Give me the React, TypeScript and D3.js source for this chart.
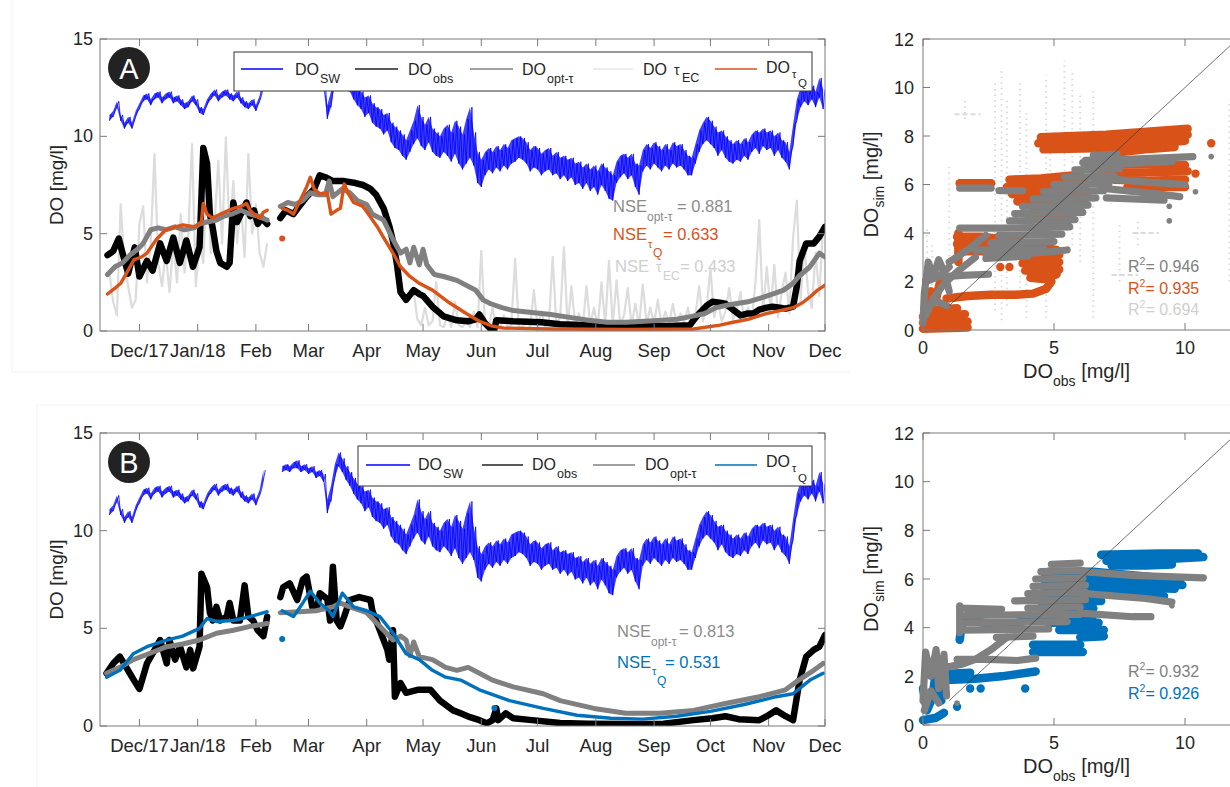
import React from "react";
import * as d3 from "d3";

const FONT = "'Liberation Sans', Arial, Helvetica, sans-serif";
const T0 = Date.UTC(2017, 10, 10);
const toDate = (d: number) => new Date(T0 + d * 86400000);

type Pt = [number, number | null];
type Sw = [number, number | null, number | null];
type XY = [number, number];

// ---------- axis tick data ----------
const monthTicks = [
  Date.UTC(2017, 11, 1), Date.UTC(2018, 0, 1), Date.UTC(2018, 1, 1), Date.UTC(2018, 2, 1),
  Date.UTC(2018, 3, 1), Date.UTC(2018, 4, 1), Date.UTC(2018, 5, 1), Date.UTC(2018, 6, 1),
  Date.UTC(2018, 7, 1), Date.UTC(2018, 8, 1), Date.UTC(2018, 9, 1), Date.UTC(2018, 10, 1),
  Date.UTC(2018, 11, 1),
];
const monthLabels = ["Dec/17", "Jan/18", "Feb", "Mar", "Apr", "May", "Jun", "Jul", "Aug", "Sep", "Oct", "Nov", "Dec"];
const doTicks = [0, 5, 10, 15];
const simTicks = [0, 2, 4, 6, 8, 10, 12];
const obsTicks = [0, 5, 10];

// ---------- DO_SW (day, daily low, daily high) ----------
const swData: Sw[] = [
  [1, null, null], [5, 10.8, 11.1], [7, 11.0, 11.3], [9, 11.5, 11.8], [11, 10.8, 11.1], [13, 10.4, 10.7],
  [15, 10.7, 11.0], [17, 10.4, 10.7], [19, 11.0, 11.3], [21, 11.4, 11.7], [23, 11.8, 12.1], [25, 11.9, 12.2],
  [27, 11.6, 11.9], [29, 11.9, 12.2], [31, 12.0, 12.3], [33, 11.7, 12.0], [35, 11.9, 12.2], [37, 12.0, 12.3],
  [39, 11.7, 12.0], [41, 11.8, 12.1], [43, 11.6, 11.9], [45, 11.4, 11.7], [47, 11.5, 11.8], [49, 11.8, 12.1],
  [51, 11.6, 11.9], [53, 11.2, 11.5], [55, 11.1, 11.4], [57, 11.6, 11.9], [59, 11.9, 12.2], [61, 12.1, 12.4],
  [63, 11.8, 12.1], [65, 12.0, 12.3], [67, 12.1, 12.4], [69, 11.9, 12.2], [71, 11.8, 12.1], [73, 12.0, 12.3],
  [75, 11.7, 12.0], [77, 11.5, 11.8], [79, 11.4, 11.7], [81, 11.6, 11.9], [83, 11.3, 11.6], [85, 11.8, 12.1],
  [87, 12.6, 13.1], [90, null, null],
  [97, 13.0, 13.3], [99, 13.1, 13.4], [101, 13.0, 13.3], [103, 13.2, 13.5], [105, 13.2, 13.6], [107, 13.0, 13.3],
  [109, 13.1, 13.4], [111, 12.9, 13.2], [113, 13.0, 13.3], [115, 12.7, 13.0], [117, 12.8, 13.1], [119, 12.5, 12.9],
  [121, 10.9, 11.6], [123, 11.5, 12.3], [125, 12.7, 13.4], [127, 13.3, 14.0], [129, 13.0, 13.7], [131, 12.6, 13.3],
  [133, 12.3, 13.0], [135, 11.9, 12.7], [137, 11.6, 12.4], [139, 11.4, 12.3], [141, 11.0, 12.0], [143, 11.2, 12.1],
  [145, 10.7, 11.7], [147, 10.5, 11.5], [149, 10.4, 11.4], [151, 10.1, 11.1], [153, 10.3, 11.2], [155, 9.7, 10.7],
  [157, 9.4, 10.5], [159, 9.3, 10.3], [161, 9.0, 10.1], [163, 8.8, 9.8], [165, 9.2, 10.3], [167, 9.6, 10.8],
  [169, 9.9, 11.6], [171, 9.5, 11.0], [173, 9.3, 10.6], [175, 9.7, 11.0], [177, 9.2, 10.4], [179, 9.0, 10.2],
  [181, 8.9, 10.0], [183, 9.2, 10.4], [185, 9.0, 10.6], [187, 8.7, 10.2], [189, 9.1, 10.8], [191, 8.6, 10.5],
  [193, 8.3, 10.1], [195, 8.6, 10.9], [197, 8.9, 11.5], [199, 8.5, 10.2], [201, 7.6, 9.2], [203, 7.4, 8.8],
  [205, 8.0, 9.2], [207, 8.3, 9.4], [209, 8.1, 9.2], [211, 8.4, 9.5], [213, 8.2, 9.3], [215, 8.5, 9.6],
  [217, 8.3, 9.4], [219, 8.6, 9.8], [221, 8.7, 9.9], [223, 8.9, 10.0], [225, 8.8, 9.9], [227, 8.6, 9.7],
  [229, 8.2, 9.3], [231, 8.4, 9.5], [233, 8.3, 9.4], [235, 8.0, 9.1], [237, 8.2, 9.3], [239, 8.3, 9.4],
  [241, 8.0, 9.0], [243, 8.1, 9.2], [245, 7.8, 8.9], [247, 8.0, 9.0], [249, 7.7, 8.8], [251, 7.9, 8.9],
  [253, 7.5, 8.6], [255, 7.6, 8.7], [257, 7.3, 8.4], [259, 7.6, 8.6], [261, 7.2, 8.3], [263, 7.4, 8.5],
  [265, 7.0, 8.2], [267, 7.5, 8.6], [269, 7.2, 8.4], [271, 6.8, 8.2], [273, 6.7, 8.0], [275, 7.6, 8.7],
  [277, 7.9, 9.0], [279, 8.1, 9.1], [281, 7.8, 8.9], [283, 8.0, 9.1], [285, 7.4, 8.6], [287, 7.0, 8.5],
  [289, 8.2, 9.3], [291, 8.5, 9.6], [293, 8.3, 9.4], [295, 8.6, 9.7], [297, 8.4, 9.5], [299, 8.2, 9.3],
  [301, 8.5, 9.6], [303, 8.3, 9.3], [305, 8.6, 9.7], [307, 8.4, 9.5], [309, 8.5, 9.6], [311, 8.3, 9.3],
  [313, 8.0, 9.0], [315, 8.0, 8.9], [317, 8.6, 9.6], [319, 9.2, 10.3], [321, 9.6, 10.7], [323, 9.8, 11.0],
  [325, 9.6, 10.8], [327, 9.4, 10.5], [329, 9.0, 10.2], [331, 9.3, 10.3], [333, 8.9, 10.0], [335, 8.7, 9.8],
  [337, 8.6, 9.6], [339, 8.8, 9.8], [341, 8.7, 9.6], [343, 9.0, 9.9], [345, 8.8, 9.7], [347, 9.2, 10.1],
  [349, 9.4, 10.3], [351, 9.1, 10.2], [353, 9.5, 10.4], [355, 9.3, 10.2], [357, 9.4, 10.3], [359, 9.0, 10.0],
  [361, 9.3, 10.2], [363, 8.9, 9.8], [365, 8.7, 9.7], [367, 8.3, 9.2], [369, 9.5, 10.6], [371, 10.8, 11.9],
  [373, 11.5, 12.5], [375, 11.8, 12.6], [377, 11.6, 12.4], [379, 11.9, 12.6], [381, 11.5, 12.3], [383, 12.0, 13.0],
  [385, 11.4, 12.4],
];

// ---------- panel A series (day, value) ----------
const obsA: Pt[] = [
  [4, 3.9], [7, 4.1], [10, 4.75], [12, 4.0], [15, 2.95], [18.5, 4.3], [21, 2.8], [25, 3.6], [28, 3.1], [32, 4.5],
  [35.5, 3.6], [39, 4.8], [42.5, 3.5], [46, 4.65], [49.5, 3.3], [53, 4.3], [55, 9.4], [57, 8.6], [58.5, 6.0],
  [60, 5.3], [62, 4.1], [64, 3.5], [67.5, 3.3], [69, 3.5], [71, 6.6], [73, 5.6], [75, 6.0], [78, 6.6], [80, 5.9],
  [82, 6.2], [84, 5.5], [86, 5.8], [89, 5.5], [92, null], [96, 5.8], [99, 6.2], [103, 6.0], [106, 6.4], [110, 6.9],
  [114, 7.3], [117, 8.0], [120, 7.9], [124, 7.7], [130, 7.7], [136, 7.6], [140, 7.5], [144, 7.3], [147, 7.0],
  [151, 6.3], [154, 5.4], [156, 4.6], [158, 3.5], [160, 2.0], [163, 1.6], [167, 2.1], [170, 1.9], [172, 1.8],
  [177, 1.25], [183, 0.75], [190, 0.55], [196, 0.5], [200, 0.6], [202, 0.85], [205, 0.4], [208, 0.1], [210, 0.1],
  [211, 0.55], [220, 0.5], [235, 0.45], [245, 0.35], [260, 0.3], [280, 0.25], [300, 0.25], [314, 0.3], [316, 0.55],
  [319, 0.9], [323, 1.3], [326, 1.5], [330, 1.45], [333, 1.4], [337, 1.1], [341, 0.8], [345, 0.9], [348, 0.9],
  [351, 1.1], [355, 1.2], [358, 1.25], [362, 1.2], [365, 1.15], [369, 1.25], [371, 2.3], [372.5, 3.6], [376, 4.5],
  [380, 4.5], [383, 4.85], [386, 5.35],
];
const optA: Pt[] = [
  [4, 2.9], [8, 3.3], [12, 3.5], [16, 3.9], [20, 4.2], [23, 4.5], [27, 5.2], [31, 5.3], [35, 5.2], [40, 5.35],
  [45, 5.2], [50, 5.3], [53, 5.5], [57, 5.6], [62, 5.7], [66, 5.9], [70, 6.0], [75, 6.2], [80, 6.0], [84, 5.9],
  [89, 5.7], [92, null], [96, 6.4], [100, 6.6], [104, 6.5], [108, 6.7], [112, 7.1], [116, 7.0], [120, 7.0],
  [122, 7.7], [124, 6.9], [129, 7.3], [133, 7.1], [137, 6.7], [142, 6.5], [145, 6.0], [151, 5.7], [156, 4.7],
  [160, 4.0], [163, 4.2], [165, 3.5], [167, 4.3], [170, 3.4], [172, 4.2], [174, 3.4], [178, 2.9], [183, 2.8],
  [190, 2.6], [196, 2.3], [200, 2.1], [204, 1.6], [208, 1.4], [214, 1.2], [220, 1.05], [230, 0.95], [240, 0.85],
  [250, 0.7], [260, 0.55], [270, 0.45], [280, 0.45], [290, 0.5], [300, 0.55], [307, 0.6], [315, 0.75], [322, 0.9],
  [328, 1.2], [335, 1.35], [345, 1.5], [352, 1.7], [358, 1.9], [364, 2.1], [369, 2.45], [372, 2.8], [378, 3.3],
  [383, 4.0], [386, 3.8],
];
const tauQA: Pt[] = [
  [4, 1.9], [8, 2.2], [11, 2.45], [14, 2.95], [18, 3.65], [22, 3.8], [25, 4.0], [30, 4.7], [35, 5.2], [44, 5.45],
  [51, 5.35], [54, 5.6], [55, 6.55], [57, 6.0], [60, 5.8], [65, 6.05], [71, 6.3], [75, 6.4], [78, 6.55], [80, 6.2],
  [82, 6.0], [85, 5.8], [87, 6.1], [89, 6.2], [92, null], [97, 6.3], [100, 6.2], [103, 6.0], [107, 6.8], [110, 7.4],
  [112, 7.9], [114, 7.3], [117, 7.05], [121, 7.1], [123, 6.0], [126, 6.2], [128, 6.3], [130, 7.55], [132, 7.1],
  [135, 6.6], [140, 6.4], [144, 5.85], [148, 5.3], [151, 4.8], [156, 4.0], [160, 3.3], [165, 2.8], [170, 2.45],
  [177, 2.1], [186, 1.45], [195, 0.9], [202, 0.5], [209, 0.25], [215, 0.15], [240, 0.1], [280, 0.08], [316, 0.1],
  [330, 0.3], [337, 0.45], [345, 0.6], [355, 0.9], [362, 1.05], [369, 1.2], [374, 1.45], [378, 1.75], [382, 2.1],
  [386, 2.35],
];
const tauQOutA: XY[] = [[97, 4.75]];
const tecA: Pt[] = [
  [5, 3.0], [7, 1.5], [9, 0.8], [11, 6.5], [13, 3.5], [15, 2.3], [17, 1.2], [19, 1.6], [21, 5.5], [23, 6.4],
  [25, 2.5], [27, 4.5], [29, 9.1], [31, 3.5], [33, 2.3], [35, 4.0], [37, 2.0], [39, 4.5], [41, 2.5], [43, 6.0],
  [45, 3.0], [47, 5.0], [49, 9.6], [51, 2.3], [53, 4.5], [55, 3.5], [57, 8.4], [59, 4.0], [61, 5.5], [63, 8.75],
  [65, 4.5], [67, 9.95], [69, 5.0], [71, 7.7], [73, 4.5], [75, 6.5], [77, 3.8], [79, 9.1], [81, 5.0], [83, 6.5],
  [85, 4.0], [87, 3.3], [89, 4.5], [90, null],
  [167, 2.0], [169, 0.6], [171, 0.3], [173, 1.2], [175, 0.3], [177, 0.5], [179, 2.5], [181, 0.3], [183, 0.2],
  [185, 0.8], [187, 0.2], [189, 1.5], [191, 0.3], [193, 0.2], [195, 0.5], [197, 0.2], [199, 1.0], [201, 0.2],
  [203, 4.1], [205, 0.3], [207, 0.2], [209, 1.2], [211, 0.2], [213, 0.1], [215, 0.8], [217, 0.2], [219, 0.3],
  [221, 3.7], [223, 0.2], [225, 0.2], [227, 0.6], [229, 0.2], [231, 2.1], [233, 0.2], [235, 1.0], [237, 0.2],
  [239, 0.4], [241, 3.8], [243, 0.3], [245, 0.7], [247, 4.3], [249, 0.2], [251, 2.3], [253, 0.3], [255, 0.9],
  [257, 0.2], [259, 2.3], [261, 0.3], [263, 1.2], [265, 0.2], [267, 2.5], [269, 0.3], [271, 3.6], [273, 0.3],
  [275, 2.6], [277, 0.3], [279, 0.8], [281, 2.2], [283, 0.3], [285, 1.4], [287, 0.3], [289, 2.4], [291, 0.4],
  [293, 1.2], [295, 0.4], [297, 1.6], [299, 0.3], [301, 1.0], [303, 0.4], [305, 1.4], [307, 0.3], [309, 0.9],
  [311, 0.4], [313, 1.2], [315, 0.4], [317, 0.8], [319, 2.3], [321, 0.5], [323, 1.2], [325, 3.2], [327, 0.7],
  [329, 1.5], [331, 0.5], [333, 1.0], [335, 2.2], [337, 0.6], [339, 1.0], [341, 2.0], [343, 0.5], [345, 1.2],
  [347, 0.6], [349, 2.5], [351, 5.7], [353, 0.9], [355, 3.3], [357, 1.0], [359, 3.4], [361, 0.7], [363, 2.0],
  [365, 3.0], [367, 0.9], [369, 4.8], [371, 6.7], [373, 1.5], [375, 4.5], [377, 2.0], [379, 1.2], [381, 4.0],
  [383, 1.8], [385, 5.5],
];

// ---------- panel B series ----------
const obsB: Pt[] = [
  [3.5, 2.7], [7, 3.2], [10.6, 3.55], [14, 3.0], [17.7, 2.4], [21, 1.9], [25, 3.2], [28, 3.7], [32, 4.4],
  [35.5, 3.2], [37, 4.4], [40, 3.4], [42.6, 4.06], [46, 3.0], [48, 3.9], [49.6, 2.95], [53, 4.06], [54, 7.8],
  [57, 7.1], [58.5, 5.8], [60, 5.4], [62, 6.1], [64, 5.4], [67.5, 5.6], [69, 6.3], [71, 5.4], [74.5, 5.4],
  [77, 7.2], [79, 5.6], [81.5, 5.4], [84, 4.9], [87, 4.6], [89, 5.6], [92, null], [96, 6.6], [97.5, 7.1],
  [101, 7.3], [105, 6.45], [108, 7.5], [110, 7.65], [113, 6.1], [115.5, 6.0], [117, 6.8], [121, 6.5],
  [122.5, 5.4], [124, 8.15], [126, 5.4], [128, 5.1], [130, 5.6], [133, 6.45], [138, 6.6], [144, 6.45],
  [145, 5.9], [149, 4.9], [153, 3.9], [154, 3.4], [156, 4.9], [157, 1.5], [160, 2.2], [163, 1.7], [169, 1.85],
  [176, 1.85], [181, 1.3], [188, 0.8], [192, 0.65], [197, 0.45], [202, 0.3], [206, 0.14], [209, 0.3], [211, 0.9],
  [212, 0.3], [216, 0.65], [220, 0.4], [230, 0.3], [245, 0.15], [260, 0.12], [280, 0.1], [300, 0.12], [316, 0.3],
  [326, 0.4], [333, 0.5], [340, 0.35], [351, 0.3], [355, 0.5], [360, 0.8], [365, 0.5], [369, 0.3], [372.5, 2.35],
  [376, 3.55], [380, 3.9], [383, 4.06], [386, 4.65],
];
const optB: Pt[] = [
  [3.5, 2.7], [10.6, 3.0], [17.7, 3.4], [26, 3.7], [35.5, 4.06], [44, 4.2], [53, 4.4], [62, 4.75], [71, 4.9],
  [80, 5.1], [89, 5.25], [92, null], [96, 5.8], [106, 5.85], [115, 5.9], [124, 6.1], [128, 6.3], [133, 6.1],
  [142, 5.8], [151, 4.9], [156, 4.4], [160, 4.6], [163, 4.4], [165, 3.6], [167, 4.3], [170, 3.55], [177, 3.4],
  [184, 3.0], [190, 2.85], [196, 3.0], [202, 2.7], [209, 2.35], [220, 2.0], [236, 1.65], [245, 1.3], [263, 0.9],
  [280, 0.65], [298, 0.65], [316, 0.8], [333, 1.15], [351, 1.5], [365, 1.85], [372, 2.35], [380, 2.85], [385, 3.2],
];
const tauQB: Pt[] = [
  [3.5, 2.5], [10.6, 2.85], [17.7, 3.7], [25, 4.06], [35.5, 4.4], [44, 4.6], [53, 5.0], [57, 5.5], [62, 5.35],
  [71, 5.4], [80, 5.6], [89, 5.85], [92, null], [97, 5.9], [103, 5.6], [108, 6.3], [112, 6.9], [117, 6.3],
  [122, 5.9], [124, 5.6], [129, 6.8], [135, 6.1], [142, 5.9], [149, 5.6], [156, 4.75], [163, 3.7], [170, 3.4],
  [177, 2.85], [184, 2.5], [192, 2.35], [202, 1.85], [218, 1.3], [236, 0.9], [254, 0.55], [272, 0.4], [289, 0.35],
  [307, 0.5], [325, 0.75], [343, 1.1], [360, 1.5], [369, 1.65], [378, 2.35], [385, 2.7],
];
const tauQOutB: XY[] = [[97, 4.45], [210, 0.92]];

// ---------- scatter A (obs, sim): streaks of dense markers ----------
const qStreaksA: XY[][] = [
  [[4.5, 7.95], [7, 8.05], [10.1, 8.3]], [[4.4, 7.7], [7, 7.8], [10.1, 8.05]], [[4.6, 7.45], [7, 7.5], [10.0, 7.8]],
  [[6.8, 7.25], [8.5, 7.45], [9.6, 7.55]],
  [[6.5, 6.8], [8.5, 6.85], [10, 6.8]], [[6.8, 6.5], [8.5, 6.5], [10.1, 6.55]], [[7.3, 6.2], [8.5, 6.15], [10, 6.2]],
  [[7.8, 5.9], [10, 5.9]],
  [[3.3, 6.2], [4.5, 6.25], [6.0, 6.4]], [[3.2, 5.9], [4.5, 6.0], [6.2, 6.1]], [[3.4, 5.6], [5, 5.7], [6.2, 5.8]],
  [[3.6, 5.3], [5, 5.35], [6.3, 5.5]], [[4.2, 5.0], [5.4, 5.0], [6.2, 5.2]],
  [[1.4, 6.05], [2.6, 6.05]],
  [[1.3, 3.85], [2.2, 3.85], [3.0, 3.75], [3.8, 3.6]], [[1.3, 3.55], [2.4, 3.55], [3.6, 3.4]],
  [[1.5, 3.25], [2.4, 3.25], [3.3, 3.2]], [[1.35, 2.8], [1.35, 4.0]],
  [[4.3, 4.6], [5.0, 4.8], [5.6, 4.7]], [[4.3, 4.2], [5.0, 4.3], [5.5, 4.4]],
  [[3.7, 3.35], [4.5, 3.4], [5.1, 3.3]], [[3.7, 3.05], [4.5, 3.0], [5.2, 3.1]], [[3.8, 2.75], [4.6, 2.7], [5.2, 2.8]],
  [[3.9, 2.45], [4.6, 2.4], [5.2, 2.5]], [[4.1, 2.15], [4.6, 2.1], [5.1, 2.3]],
  [[0.9, 1.3], [1.7, 1.4], [2.6, 1.45], [3.5, 1.45], [4.2, 1.5], [4.7, 1.7], [4.9, 2.0]],
  [[0, 0.05], [1.7, 0.1]], [[0, 0.3], [0.8, 0.35], [1.7, 0.35]], [[0, 0.55], [0.8, 0.6], [1.6, 0.65]],
  [[0.1, 0.85], [0.7, 0.85], [1.3, 0.9]], [[0.1, 0.9], [0.3, 1.6], [0.5, 1.3], [0.7, 2.2]],
];
const qDotsA: XY[] = [[2.95, 2.6], [3.3, 2.6], [11.0, 7.7], [10.4, 6.45]];
const optStreaksA: XY[][] = [
  [[6.2, 7.0], [8, 7.05], [10.3, 7.15]], [[6.5, 6.8], [8.5, 6.9], [9.5, 6.95]],
  [[6.5, 6.3], [8.5, 6.1], [10, 6.0]], [[6.8, 5.85], [9, 5.6], [9.8, 5.5]], [[7, 5.45], [9.2, 5.35]],
  [[1.4, 5.85], [2.6, 5.85]], [[2.9, 5.75], [3.8, 5.75]],
  [[2.4, 2.95], [4.0, 3.05]], [[2.0, 3.3], [4.6, 3.35]], [[2.6, 3.6], [5.0, 3.65]], [[2.9, 3.9], [5.3, 3.95]],
  [[1.4, 4.2], [3.0, 4.2], [5.6, 4.25]], [[3.3, 4.5], [5.8, 4.55]], [[3.5, 4.8], [6.1, 4.85]],
  [[3.8, 5.1], [6.3, 5.15]], [[4.2, 5.4], [6.6, 5.45]], [[4.6, 5.7], [6.9, 5.75]], [[5.0, 6.0], [7.1, 6.05]],
  [[5.4, 6.3], [7.3, 6.35]], [[5.8, 6.6], [7.5, 6.65]], [[6.1, 6.9], [7.5, 6.95]], [[6.5, 7.2], [7.4, 7.25]],
  [[0.1, 0.6], [0.4, 1.3], [0.8, 1.9], [1.3, 2.4], [2, 3.0]], [[1, 2.8], [1.7, 3.3], [2.4, 3.9]],
  [[0, 0.3], [0.05, 1.5], [0.2, 2.8], [0.4, 2.2], [0.6, 2.9], [0.8, 2.4], [1.0, 1.6]],
  [[0.1, 0.9], [0.5, 1.2], [0.9, 1.0]], [[0.1, 2.0], [0.6, 2.2], [1.0, 2.6]],
  [[0.8, 2.2], [1.5, 2.25], [2.5, 2.3]], [[2.4, 3.15], [3.5, 3.15], [4.6, 3.2], [5.5, 3.3]],
];
const optDotsA: XY[] = [[9.4, 5.1], [9.4, 4.5], [10.4, 5.7], [11.0, 7.15]];
// tau_EC scatter: columns [obs, simLow, simHigh] and dashes [obsLow, obsHigh, sim]
const tecColumnsA: [number, number, number][] = [
  [0.15, 0.0, 4.3], [0.35, 0.5, 3.5], [0.5, 0.2, 2.5], [1.0, 1.0, 6.9], [1.6, 8.7, 9.6], [2.75, 0.8, 10.3],
  [3.0, 0.4, 10.7], [3.2, 1.0, 9.5], [3.7, 1.5, 10.2], [3.95, 0.5, 9.0], [4.7, 0.5, 10.5], [4.85, 2.0, 8.0],
  [5.4, 4.5, 11.1], [5.7, 3.5, 10.6], [6.0, 2.8, 9.8], [6.5, 0.5, 10.0], [7.5, 2.0, 4.5], [8.2, 3.5, 4.6],
  [11.7, 2.0, 9.5],
];
const tecDashesA: [number, number, number][] = [[7.2, 8.2, 2.27], [8.0, 9.0, 4.0], [1.2, 2.2, 8.9]];

// ---------- scatter B ----------
const qStreaksB: XY[][] = [
  [[6.8, 7.0], [9, 7.05], [10.5, 7.05]], [[7.0, 6.75], [9, 6.8], [10.7, 6.9]], [[7.2, 6.55], [8.5, 6.55], [9.5, 6.6]],
  [[4.8, 6.3], [6.5, 6.3], [8.5, 6.1], [9.8, 5.95]], [[4.6, 6.0], [6.5, 6.0], [8.5, 5.85], [9.9, 5.75]],
  [[4.6, 5.7], [7, 5.7], [9.6, 5.6]], [[4.6, 5.4], [7, 5.4], [9.2, 5.3]], [[4.5, 5.1], [6.8, 5.1]],
  [[4.5, 4.8], [6.5, 4.8]], [[4.6, 4.5], [6.5, 4.5]], [[4.8, 4.2], [6.7, 4.2]], [[5.2, 3.9], [6.9, 3.9]],
  [[6.0, 3.6], [6.9, 3.65]], [[4.2, 3.3], [6.0, 3.3]], [[4.2, 3.0], [6.1, 3.0]],
  [[0.9, 1.85], [2, 1.9], [3, 2.0], [4.3, 2.2]], [[0.8, 2.1], [1.8, 2.15]],
  [[0, 0.2], [0.5, 0.3], [0.8, 0.5]], [[0, 1.5], [0.15, 0.6], [0.35, 1.1], [0.5, 2.2], [0.7, 1.0]],
  [[1.4, 3.5], [1.5, 4.3], [2.1, 4.25], [3, 4.05], [4, 4.3], [5, 4.5]],
];
const qDotsB: XY[] = [[1.8, 1.5], [2.2, 1.5], [3.9, 1.5], [1.3, 0.75], [9.6, 5.6]];
const optStreaksB: XY[][] = [
  [[6.1, 6.3], [8, 6.15], [10.7, 6.05]], [[6.2, 5.4], [8.5, 5.2], [9.5, 5.05]], [[6, 4.6], [8, 4.45], [8.7, 4.45]],
  [[2.8, 3.6], [4.2, 3.65]], [[1.5, 3.9], [4.8, 3.95]], [[1.5, 4.2], [5.5, 4.25]], [[1.6, 4.5], [6.0, 4.55]],
  [[1.4, 4.8], [3.0, 4.75]], [[4.0, 4.8], [6.0, 4.85]], [[3.5, 5.1], [6.2, 5.15]], [[4.0, 5.4], [6.2, 5.45]],
  [[4.2, 5.7], [6.2, 5.75]], [[4.3, 6.0], [6.1, 6.05]], [[4.5, 6.3], [6.1, 6.35]], [[4.9, 6.6], [6.0, 6.65]],
  [[1.4, 3.8], [1.4, 4.9]],
  [[0.6, 2.2], [1, 2.4], [1.5, 2.5], [2, 2.7], [2.6, 3.1], [3.2, 3.6]],
  [[1.3, 2.7], [2.5, 2.7], [3.6, 2.65], [4.3, 2.75]],
  [[0, 1.0], [0.1, 3.0], [0.3, 2.0], [0.5, 3.1], [0.6, 1.5], [0.8, 2.9], [0.9, 1.2]],
  [[0.05, 0.6], [0.3, 1.4], [0.6, 0.9]], [[0.1, 2.4], [0.5, 2.6], [0.85, 2.3]],
];
const optDotsB: XY[] = [[9.5, 4.9], [1.3, 0.9]];

// ---------- colours ----------
const C_SW = "#0000ff";
const C_OBS = "#000000";
const C_OPT = "#808080";
const C_EC = "#dcdcdc";
const C_QA = "#D95319";
const C_QB = "#0072BD";
const C_AX = "#7a7a7a";
const C_TXT = "#262626";

const T = (props: any) => <text fontFamily={FONT} {...props} />;

function TimePanel(p: {
  top: number; bottom: number; letter: string; obs: Pt[]; opt: Pt[]; tauQ: Pt[]; qColor: string;
  qOut: XY[]; tec?: Pt[]; children?: React.ReactNode; id: string;
}) {
  const L = 100, R = 825;
  const x = d3.scaleUtc().domain([toDate(0), toDate(386)]).range([L, R]);
  const y = d3.scaleLinear().domain([0, 15]).range([p.bottom, p.top]);
  const line = d3.line<Pt>().defined(d => d[1] !== null).x(d => x(toDate(d[0]))).y(d => y(d[1] as number));
  const band = d3.area<Sw>().defined(d => d[1] !== null)
    .x(d => x(toDate(d[0]))).y0(d => y(d[1] as number)).y1(d => y(d[2] as number));
  const zig: Pt[] = [];
  swData.forEach(([d, lo, hi]) => {
    if (lo === null || hi === null) zig.push([d, null]);
    else { zig.push([d, lo]); zig.push([d + 1, hi]); }
  });
  const cy = (p.top + p.bottom) / 2;
  return (
    <g>
      <defs>
        <clipPath id={p.id}><rect x={L} y={p.top} width={R - L} height={p.bottom - p.top} /></clipPath>
      </defs>
      <g clipPath={`url(#${p.id})`}>
        {p.tec && <path d={line(p.tec) || ""} fill="none" stroke={C_EC} strokeWidth={2.2} strokeLinejoin="round" />}
        <path d={band(swData) || ""} fill={C_SW} fillOpacity={0.75} stroke="none" />
        <path d={line(zig) || ""} fill="none" stroke={C_SW} strokeWidth={0.8} strokeLinejoin="round" />
        <path d={line(p.obs) || ""} fill="none" stroke={C_OBS} strokeWidth={6.5} strokeLinejoin="round" strokeLinecap="round" />
        <path d={line(p.opt) || ""} fill="none" stroke={C_OPT} strokeWidth={5} strokeLinejoin="round" strokeLinecap="round" />
        <path d={line(p.tauQ) || ""} fill="none" stroke={p.qColor} strokeWidth={3.4} strokeLinejoin="round" strokeLinecap="round" />
        {p.qOut.map((d, i) => <circle key={i} cx={x(toDate(d[0]))} cy={y(d[1])} r={3} fill={p.qColor} />)}
      </g>
      <rect x={L} y={p.top} width={R - L} height={p.bottom - p.top} fill="none" stroke={C_AX} strokeWidth={1} />
      {monthTicks.map((t, i) => (
        <g key={i}>
          <line x1={x(new Date(t))} x2={x(new Date(t))} y1={p.bottom} y2={p.bottom - 7} stroke={C_AX} />
          <line x1={x(new Date(t))} x2={x(new Date(t))} y1={p.top} y2={p.top + 7} stroke={C_AX} />
          <T x={x(new Date(t))} y={p.bottom + 26} fontSize={18.5} textAnchor="middle" fill={C_TXT}>{monthLabels[i]}</T>
        </g>
      ))}
      {doTicks.map(v => (
        <g key={v}>
          <line x1={L} x2={L + 7} y1={y(v)} y2={y(v)} stroke={C_AX} />
          <line x1={R} x2={R - 7} y1={y(v)} y2={y(v)} stroke={C_AX} />
          <T x={93} y={y(v) + 6} fontSize={18} textAnchor="end" fill={C_TXT}>{v}</T>
        </g>
      ))}
      <T transform={`translate(63,${cy}) rotate(-90)`} fontSize={19} textAnchor="middle" fill={C_TXT}>DO [mg/l]</T>
      {p.children}
      <circle cx={129} cy={p.top + 29} r={21} fill="#222" />
      <T x={129} y={p.top + 39.5} fontSize={29} textAnchor="middle" fill="#fff">{p.letter}</T>
    </g>
  );
}

function ScatterPanel(p: {
  top: number; bottom: number; qColor: string; qStreaks: XY[][]; qDots: XY[];
  optStreaks: XY[][]; optDots: XY[];
  tecCols?: [number, number, number][]; tecDashes?: [number, number, number][]; children?: React.ReactNode;
}) {
  const L = 923;
  const x = d3.scaleLinear().domain([0, 12]).range([L, L + 12 * 26.2]);
  const y = d3.scaleLinear().domain([0, 12]).range([p.bottom, p.top]);
  const line = d3.line<XY>().x(d => x(d[0])).y(d => y(d[1]));
  const cy = (p.top + p.bottom) / 2;
  return (
    <g>
      {p.tecCols && p.tecCols.map((c, i) => (
        <line key={i} x1={x(c[0])} x2={x(c[0])} y1={y(c[1])} y2={y(c[2])} stroke="#dadada" strokeWidth={2} strokeDasharray="1.5 4" />
      ))}
      {p.tecDashes && p.tecDashes.map((c, i) => (
        <line key={i} x1={x(c[0])} x2={x(c[1])} y1={y(c[2])} y2={y(c[2])} stroke="#dadada" strokeWidth={2} strokeDasharray="5 3" />
      ))}
      {p.qStreaks.map((s, i) => (
        <path key={i} d={line(s) || ""} fill="none" stroke={p.qColor} strokeWidth={8.5} strokeLinecap="round" strokeLinejoin="round" />
      ))}
      {p.qDots.map((d, i) => <circle key={i} cx={x(d[0])} cy={y(d[1])} r={4.2} fill={p.qColor} />)}
      {p.optStreaks.map((s, i) => (
        <path key={i} d={line(s) || ""} fill="none" stroke={C_OPT} strokeWidth={7.2} strokeLinecap="round" strokeLinejoin="round" />
      ))}
      {p.optDots.map((d, i) => <circle key={i} cx={x(d[0])} cy={y(d[1])} r={2.8} fill={C_OPT} />)}
      <line x1={x(1)} y1={y(1)} x2={x(12)} y2={y(12)} stroke="#333" strokeWidth={0.7} />
      <rect x={L} y={p.top} width={12 * 26.2} height={p.bottom - p.top} fill="none" stroke={C_AX} strokeWidth={1} />
      {simTicks.map(v => (
        <g key={v}>
          <line x1={L} x2={L + 7} y1={y(v)} y2={y(v)} stroke={C_AX} />
          <T x={914} y={y(v) + 6.5} fontSize={18} textAnchor="end" fill={C_TXT}>{v}</T>
        </g>
      ))}
      {obsTicks.map(v => (
        <g key={v}>
          <line x1={x(v)} x2={x(v)} y1={p.bottom} y2={p.bottom - 7} stroke={C_AX} />
          <line x1={x(v)} x2={x(v)} y1={p.top} y2={p.top + 7} stroke={C_AX} />
          <T x={x(v)} y={p.bottom + 24} fontSize={18} textAnchor="middle" fill={C_TXT}>{v}</T>
        </g>
      ))}
      <T transform={`translate(878,${cy}) rotate(-90)`} fontSize={20} textAnchor="middle" fill={C_TXT}>
        <tspan>DO</tspan><tspan fontSize={14} dy={6}>sim</tspan><tspan dy={-6}> [mg/l]</tspan>
      </T>
      <T x={1023} y={p.bottom + 48} fontSize={20} fill={C_TXT}>
        <tspan>DO</tspan><tspan fontSize={14} dy={8}>obs</tspan><tspan dy={-8}> [mg/l]</tspan>
      </T>
      {p.children}
    </g>
  );
}

function R2({ x, y, value, color }: { x: number; y: number; value: string; color: string }) {
  return (
    <T x={x} y={y} fontSize={16} fill={color}>
      <tspan>R</tspan><tspan fontSize={10.5} dy={-7}>2</tspan><tspan dy={7}>= {value}</tspan>
    </T>
  );
}

export default function App() {
  return (
    <div style={{ position: "absolute", left: 0, top: 0 }}>
      <svg width={1230} height={787} style={{ display: "block", background: "#fff" }}>
        <line x1={12} y1={0} x2={12} y2={372} stroke="#f3f3f3" />
        <line x1={12} y1={372} x2={850} y2={372} stroke="#f3f3f3" />
        <line x1={37} y1={405} x2={1230} y2={405} stroke="#f3f3f3" />
        <line x1={37} y1={405} x2={37} y2={787} stroke="#f3f3f3" />

        {/* ---------------- Panel A ---------------- */}
        <TimePanel id="clipA" top={39} bottom={331} letter="A" obs={obsA} opt={optA} tauQ={tauQA} qColor={C_QA} qOut={tauQOutA} tec={tecA}>
          <T x={613} y={212} fontSize={16.5} fill="#8c8c8c">NSE</T>
          <T x={647} y={221} fontSize={12} fill="#8c8c8c">opt-τ</T>
          <T x={677} y={212} fontSize={16.5} fill="#8c8c8c">= 0.881</T>
          <T x={613} y={240} fontSize={16.5} fill={C_QA}>NSE</T>
          <T x={648} y={248} fontSize={11} fill={C_QA}>τ</T>
          <T x={653} y={257} fontSize={12} fill={C_QA}>Q</T>
          <T x={663} y={240} fontSize={16.5} fill={C_QA}>= 0.633</T>
          <T x={615} y={272} fontSize={16.5} fill="#cfcfcf">NSE</T>
          <T x={656} y={272} fontSize={14} fill="#cfcfcf">τ</T>
          <T x={663} y={280} fontSize={12} fill="#cfcfcf">EC</T>
          <T x={680} y={272} fontSize={16.5} fill="#cfcfcf">= 0.433</T>
          <rect x={234} y={52} width={578} height={39} fill="#fff" stroke="#333" strokeWidth={1} />
          <line x1={241} x2={283} y1={69} y2={69} stroke={C_SW} strokeWidth={1.6} />
          <T x={295} y={75} fontSize={16} fill={C_TXT}>DO</T>
          <T x={320} y={83} fontSize={12.5} fill={C_TXT}>SW</T>
          <line x1={355} x2={398} y1={69} y2={69} stroke="#222" strokeWidth={1.6} />
          <T x={408} y={75} fontSize={16} fill={C_TXT}>DO</T>
          <T x={433} y={83} fontSize={12.5} fill={C_TXT}>obs</T>
          <line x1={470} x2={513} y1={69} y2={69} stroke={C_OPT} strokeWidth={1.6} />
          <T x={522} y={75} fontSize={16} fill={C_TXT}>DO</T>
          <T x={547} y={83} fontSize={12.5} fill={C_TXT}>opt-τ</T>
          <line x1={593} x2={633} y1={69} y2={69} stroke="#e6e6e6" strokeWidth={1.6} />
          <T x={643} y={75} fontSize={16} fill={C_TXT}>DO</T>
          <T x={674} y={75} fontSize={14} fill={C_TXT}>τ</T>
          <T x={682} y={82} fontSize={12.5} fill={C_TXT}>EC</T>
          <line x1={715} x2={757} y1={69} y2={69} stroke={C_QA} strokeWidth={1.6} />
          <T x={766} y={73} fontSize={16} fill={C_TXT}>DO</T>
          <T x={792} y={78} fontSize={11} fill={C_TXT}>τ</T>
          <T x={798} y={87} fontSize={11.5} fill={C_TXT}>Q</T>
        </TimePanel>

        <ScatterPanel top={39} bottom={330} qColor={C_QA} qStreaks={qStreaksA} qDots={qDotsA}
          optStreaks={optStreaksA} optDots={optDotsA} tecCols={tecColumnsA} tecDashes={tecDashesA}>
          <R2 x={1128} y={272} value="0.946" color="#808080" />
          <R2 x={1128} y={294} value="0.935" color={C_QA} />
          <R2 x={1128} y={315} value="0.694" color="#cfcfcf" />
        </ScatterPanel>

        {/* ---------------- Panel B ---------------- */}
        <TimePanel id="clipB" top={433} bottom={726} letter="B" obs={obsB} opt={optB} tauQ={tauQB} qColor={C_QB} qOut={tauQOutB}>
          <T x={617} y={637} fontSize={16.5} fill="#8c8c8c">NSE</T>
          <T x={651} y={646} fontSize={12} fill="#8c8c8c">opt-τ</T>
          <T x={679} y={637} fontSize={16.5} fill="#8c8c8c">= 0.813</T>
          <T x={617} y={668} fontSize={16.5} fill={C_QB}>NSE</T>
          <T x={652} y={675} fontSize={11} fill={C_QB}>τ</T>
          <T x={657} y={685} fontSize={12} fill={C_QB}>Q</T>
          <T x={665} y={668} fontSize={16.5} fill={C_QB}>= 0.531</T>
          <rect x={358} y={446} width={454} height={40} fill="#fff" stroke="#333" strokeWidth={1} />
          <line x1={366} x2={410} y1={465} y2={465} stroke={C_SW} strokeWidth={1.6} />
          <T x={418} y={470} fontSize={16} fill={C_TXT}>DO</T>
          <T x={443} y={478} fontSize={12.5} fill={C_TXT}>SW</T>
          <line x1={482} x2={523} y1={465} y2={465} stroke="#222" strokeWidth={1.6} />
          <T x={532} y={470} fontSize={16} fill={C_TXT}>DO</T>
          <T x={557} y={478} fontSize={12.5} fill={C_TXT}>obs</T>
          <line x1={593} x2={635} y1={465} y2={465} stroke={C_OPT} strokeWidth={1.6} />
          <T x={645} y={470} fontSize={16} fill={C_TXT}>DO</T>
          <T x={670} y={478} fontSize={12.5} fill={C_TXT}>opt-τ</T>
          <line x1={715} x2={757} y1={465} y2={465} stroke={C_QB} strokeWidth={1.6} />
          <T x={766} y={467} fontSize={16} fill={C_TXT}>DO</T>
          <T x={792} y={472} fontSize={11} fill={C_TXT}>τ</T>
          <T x={798} y={482} fontSize={11.5} fill={C_TXT}>Q</T>
        </TimePanel>

        <ScatterPanel top={433} bottom={725} qColor={C_QB} qStreaks={qStreaksB} qDots={qDotsB}
          optStreaks={optStreaksB} optDots={optDotsB}>
          <R2 x={1128} y={677} value="0.932" color="#808080" />
          <R2 x={1128} y={699} value="0.926" color={C_QB} />
        </ScatterPanel>
      </svg>
    </div>
  );
}
